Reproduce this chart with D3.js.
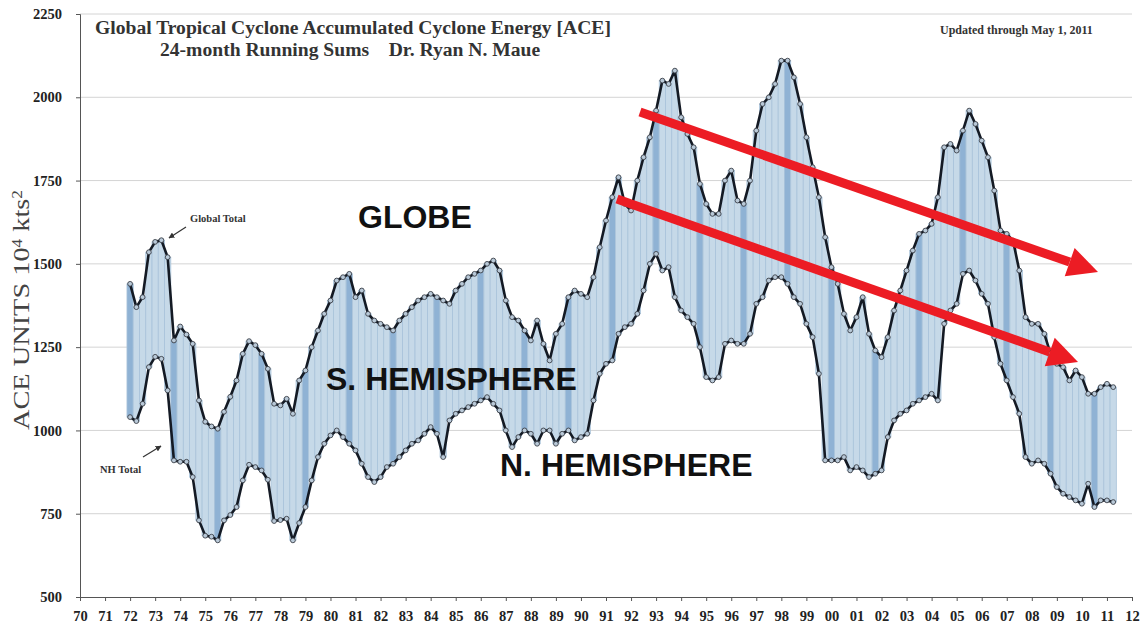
<html lang="en">
<head>
<meta charset="utf-8">
<title>Global Tropical Cyclone ACE</title>
<script src="https://cdnjs.cloudflare.com/ajax/libs/d3/7.8.5/d3.min.js"></script>
<style>
  body { margin: 0; background: white; }
  svg { display: block; background: white; }
  .serif { font-family: "Liberation Serif", "DejaVu Serif", serif; }
  .axis path, .axis line { stroke: #555; stroke-width: 1; fill: none; }
  .axis text { font-family: "Liberation Serif", serif; font-size: 14.5px; font-weight: bold; fill: #222; }
  .grid line { stroke: #d4d4d4; stroke-width: 1; }
  .big { font-family: "Liberation Sans", Arial, sans-serif; font-weight: bold; font-size: 32px; fill: #111; }
</style>
</head>
<body>
<script>
// 24-month running sums, quarterly readings, first point Jan 1972
var startYear = 1972;
var stepYears = 0.25;

var globalAce = [
  1440, 1370, 1400, 1535, 1566, 1571, 1520, 1270, 1312, 1288, 1260, 1090, 1026, 1012, 1005, 1056,
  1101, 1150, 1230, 1268, 1256, 1230, 1185, 1080, 1075, 1095, 1050, 1150, 1180, 1250, 1300, 1350,
  1390, 1450, 1460, 1470, 1400, 1420, 1350, 1330, 1320, 1310, 1300, 1330, 1350, 1370, 1390, 1400,
  1410, 1400, 1390, 1380, 1420, 1440, 1460, 1470, 1480, 1500, 1510, 1480, 1390, 1340, 1330, 1300,
  1270, 1330, 1260, 1210, 1290, 1320, 1400, 1420, 1410, 1400, 1460, 1550, 1630, 1700, 1760, 1680,
  1660, 1750, 1820, 1880, 1960, 2050, 2040, 2080, 1940, 1890, 1850, 1740, 1680, 1650, 1650, 1750,
  1780, 1690, 1680, 1750, 1900, 1980, 2000, 2040, 2110, 2110, 2060, 1980, 1880, 1790, 1700, 1580,
  1490, 1440, 1350, 1300, 1340, 1400, 1290, 1240, 1220, 1280, 1360, 1420, 1480, 1540, 1590, 1600,
  1620, 1700, 1850, 1860, 1840, 1900, 1960, 1920, 1870, 1820, 1720, 1600, 1590, 1570, 1480, 1340,
  1320, 1320, 1290, 1230, 1200, 1190, 1150, 1180, 1160, 1110, 1110, 1130, 1140, 1130
];

var nhAce = [
  1040, 1028, 1080, 1190, 1221, 1215, 1120, 910, 906, 906, 860, 730, 684, 681, 670, 730,
  746, 770, 850, 897, 890, 880, 852, 728, 731, 735, 670, 722, 770, 850, 920, 960,
  985, 1000, 980, 960, 940, 900, 860, 845, 860, 890, 900, 920, 940, 960, 970, 990,
  1010, 990, 920, 1030, 1050, 1060, 1070, 1080, 1090, 1100, 1080, 1060, 1000, 950, 980, 1000,
  990, 960, 1000, 1000, 960, 990, 1000, 970, 980, 990, 1090, 1170, 1200, 1210, 1290, 1310,
  1320, 1350, 1420, 1500, 1530, 1480, 1490, 1400, 1360, 1340, 1320, 1250, 1160, 1150, 1160, 1260,
  1270, 1260, 1260, 1290, 1380, 1400, 1450, 1460, 1460, 1440, 1400, 1380, 1320, 1280, 1170, 910,
  910, 910, 920, 880, 890, 880, 860, 870, 880, 980, 1030, 1050, 1060, 1080, 1090, 1100,
  1110, 1090, 1320, 1360, 1380, 1470, 1480, 1450, 1410, 1380, 1280, 1200, 1150, 1100, 1050, 920,
  900, 910, 900, 870, 830, 810, 800, 790, 780, 840, 770, 790, 790, 785
];

var yearTicks = d3.range(1970, 2013);
var aceTicks = [500, 750, 1000, 1250, 1500, 1750, 2000, 2250];

var data = globalAce.map(function(g, i) {
  return { t: startYear + i * stepYears, glob: g, nh: nhAce[i] };
});

var W = 1146, H = 632;
var svg = d3.select("body").append("svg").attr("width", W).attr("height", H);

var x = d3.scaleLinear().domain([1970, 2012]).range([80, 1132]);
var y = d3.scaleLinear().domain([500, 2250]).range([597, 14]);

// gridlines
svg.append("g").attr("class", "grid")
  .selectAll("line").data(aceTicks.slice(1)).enter().append("line")
  .attr("x1", x(1970)).attr("x2", x(2012))
  .attr("y1", function(d) { return y(d); }).attr("y2", function(d) { return y(d); });

// bars between NH total and global total
var bw = x(startYear + stepYears) - x(startYear);
svg.append("g").selectAll("rect").data(data).enter().append("rect")
  .attr("x", function(d) { return x(d.t) - bw / 2; })
  .attr("width", bw)
  .attr("y", function(d) { return y(d.glob); })
  .attr("height", function(d) { return y(d.nh) - y(d.glob); })
  .attr("fill", function(d, i) { return (i % 7 === 0) ? "#8fb2d4" : "#c6d9e8"; })
  .attr("stroke", "#a9c3da")
  .attr("stroke-width", 0.8);

function drawSeries(key) {
  var line = d3.line().x(function(d) { return x(d.t); }).y(function(d) { return y(d[key]); });
  svg.append("path").datum(data)
    .attr("d", line)
    .attr("fill", "none")
    .attr("stroke", "#141a24")
    .attr("stroke-width", 2.6)
    .attr("stroke-linejoin", "round");
  svg.append("g").selectAll("circle").data(data).enter().append("circle")
    .attr("cx", function(d) { return x(d.t); })
    .attr("cy", function(d) { return y(d[key]); })
    .attr("r", 2.4)
    .attr("fill", "#b9c9d8")
    .attr("stroke", "#3a4048")
    .attr("stroke-width", 0.9);
}
drawSeries("glob");
drawSeries("nh");

// axes
var yAxis = d3.axisLeft(y).tickValues(aceTicks).tickSize(4).tickPadding(14).tickFormat(d3.format("d"));
svg.append("g").attr("class", "axis").attr("transform", "translate(" + x(1970) + ",0)").call(yAxis);

var xAxis = d3.axisBottom(x).tickValues(yearTicks).tickSize(4).tickPadding(10)
  .tickFormat(function(d) { return d3.format("02d")(d % 100); });
svg.append("g").attr("class", "axis").attr("transform", "translate(0," + y(500) + ")").call(xAxis);

// y label
var yl = svg.append("text").attr("class", "serif")
  .attr("transform", "translate(29,310) rotate(-90)")
  .attr("text-anchor", "middle")
  .attr("textLength", 240).attr("lengthAdjust", "spacingAndGlyphs")
  .attr("font-size", 23).attr("fill", "#444");
yl.append("tspan").text("ACE UNITS 10");
yl.append("tspan").attr("baseline-shift", "super").attr("font-size", 14).text("4");
yl.append("tspan").text(" kts");
yl.append("tspan").attr("baseline-shift", "super").attr("font-size", 14).text("2");

// titles
svg.append("text").attr("class", "serif").attr("x", 95).attr("y", 34)
  .attr("font-size", 19.6).attr("font-weight", "bold").attr("fill", "#333")
  .text("Global Tropical Cyclone Accumulated Cyclone Energy [ACE]");
svg.append("text").attr("class", "serif").attr("x", 160).attr("y", 56)
  .attr("font-size", 19.6).attr("font-weight", "bold").attr("fill", "#333")
  .attr("xml:space", "preserve")
  .text("24-month Running Sums    Dr. Ryan N. Maue");
svg.append("text").attr("class", "serif").attr("x", 940).attr("y", 34)
  .attr("font-size", 12).attr("font-weight", "bold").attr("fill", "#333")
  .text("Updated through May 1, 2011");

// small annotations
svg.append("defs").append("marker").attr("id", "sm")
  .attr("viewBox", "0 0 10 10").attr("refX", 9).attr("refY", 5)
  .attr("markerWidth", 5).attr("markerHeight", 5).attr("orient", "auto")
  .append("path").attr("d", "M0,0L10,5L0,10z").attr("fill", "#333");

svg.append("text").attr("class", "serif").attr("x", 190).attr("y", 222)
  .attr("font-size", 10.5).attr("font-weight", "bold").attr("fill", "#333").text("Global Total");
svg.append("line").attr("x1", 186).attr("y1", 227).attr("x2", 169).attr("y2", 238)
  .attr("stroke", "#333").attr("stroke-width", 1.2).attr("marker-end", "url(#sm)");

svg.append("text").attr("class", "serif").attr("x", 100).attr("y", 473)
  .attr("font-size", 10.5).attr("font-weight", "bold").attr("fill", "#333").text("NH Total");
svg.append("line").attr("x1", 143).attr("y1", 457).attr("x2", 161).attr("y2", 446)
  .attr("stroke", "#333").attr("stroke-width", 1.2).attr("marker-end", "url(#sm)");

// big labels
svg.append("text").attr("class", "big").attr("x", 358).attr("y", 228).text("GLOBE");
svg.append("text").attr("class", "big").attr("x", 326).attr("y", 390).text("S. HEMISPHERE");
svg.append("text").attr("class", "big").attr("x", 500).attr("y", 476).text("N. HEMISPHERE");

// red trend arrows
function redArrow(x1, y1, x2, y2) {
  var ang = Math.atan2(y2 - y1, x2 - x1);
  var len = 30, half = 15;
  var bx = x2 - len * Math.cos(ang), by = y2 - len * Math.sin(ang);
  svg.append("line").attr("x1", x1).attr("y1", y1).attr("x2", bx).attr("y2", by)
    .attr("stroke", "#ec1c24").attr("stroke-width", 9);
  var px = -Math.sin(ang) * half, py = Math.cos(ang) * half;
  svg.append("path")
    .attr("d", "M" + x2 + "," + y2 + "L" + (bx + px) + "," + (by + py) + "L" + (bx - px) + "," + (by - py) + "Z")
    .attr("fill", "#ec1c24");
}
redArrow(640, 112, 1098, 272);
redArrow(617, 199, 1078, 362);
</script>
</body>
</html>
